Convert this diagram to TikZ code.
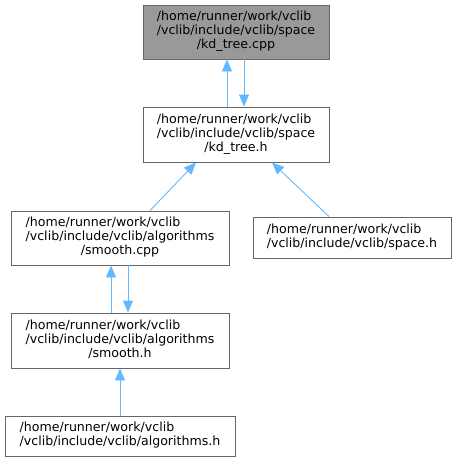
\documentclass[tikz,border=0pt]{standalone}
\usepackage{fontspec}
\setmainfont{DejaVu Sans}
\usetikzlibrary{arrows.meta,calc}
\definecolor{edgeblue}{HTML}{63B8FF}
\definecolor{nodeborder}{HTML}{666666}
\definecolor{rootfill}{HTML}{999999}
\newcommand{\lbl}[3]{\begin{tabular}{@{}l@{}}#1\\#2\\\multicolumn{1}{@{}c@{}}{#3}\end{tabular}}
\newcommand{\lbltwo}[2]{\begin{tabular}{@{}l@{}}#1\\#2\end{tabular}}
\begin{document}
\begin{tikzpicture}[x=1pt,y=-1pt,
  box/.style={draw=nodeborder,fill=white,line width=0.9pt,inner sep=0pt,rectangle,
    font=\fontsize{12.6}{14}\selectfont},
  rootbox/.style={box,fill=rootfill},
  dep/.style={draw=edgeblue,line width=0.9pt,-{Triangle[length=12pt,width=10pt]}}]
\useasboundingbox (0,0) rectangle (456,461);
\renewcommand{\arraystretch}{1}
\setlength{\tabcolsep}{0pt}
\node[rootbox,minimum width=186pt,minimum height=54pt] (A) at (236,32)
  {\lbl{/home/runner/work/vclib}{/vclib/include/vclib/space}{/kd\_tree.cpp}};
\node[box,minimum width=186pt,minimum height=55pt] (B) at (236,134.5)
  {\lbl{/home/runner/work/vclib}{/vclib/include/vclib/space}{/kd\_tree.h}};
\node[box,minimum width=218pt,minimum height=54pt] (C) at (120,238)
  {\lbl{/home/runner/work/vclib}{/vclib/include/vclib/algorithms}{/smooth.cpp}};
\node[box,minimum width=198pt,minimum height=41pt] (D) at (352,237.5)
  {\lbltwo{/home/runner/work/vclib}{/vclib/include/vclib/space.h}};
\node[box,minimum width=218pt,minimum height=55pt] (E) at (120,340.5)
  {\lbl{/home/runner/work/vclib}{/vclib/include/vclib/algorithms}{/smooth.h}};
\node[box,minimum width=230pt,minimum height=40pt] (F) at (120,436)
  {\lbltwo{/home/runner/work/vclib}{/vclib/include/vclib/algorithms.h}};
\draw[dep] ([xshift=-9pt]B.north) -- ([xshift=-9pt]A.south);
\draw[dep] ([xshift=8pt]A.south) -- ([xshift=8pt]B.north);
\draw[dep] ([xshift=30pt]C.north) -- ([xshift=-40pt]B.south);
\draw[dep] ([xshift=-23pt]D.north) -- ([xshift=36pt]B.south);
\draw[dep] ([xshift=-9pt]E.north) -- ([xshift=-9pt]C.south);
\draw[dep] ([xshift=8pt]C.south) -- ([xshift=8pt]E.north);
\draw[dep] (F.north) -- (E.south);
\end{tikzpicture}
\end{document}
